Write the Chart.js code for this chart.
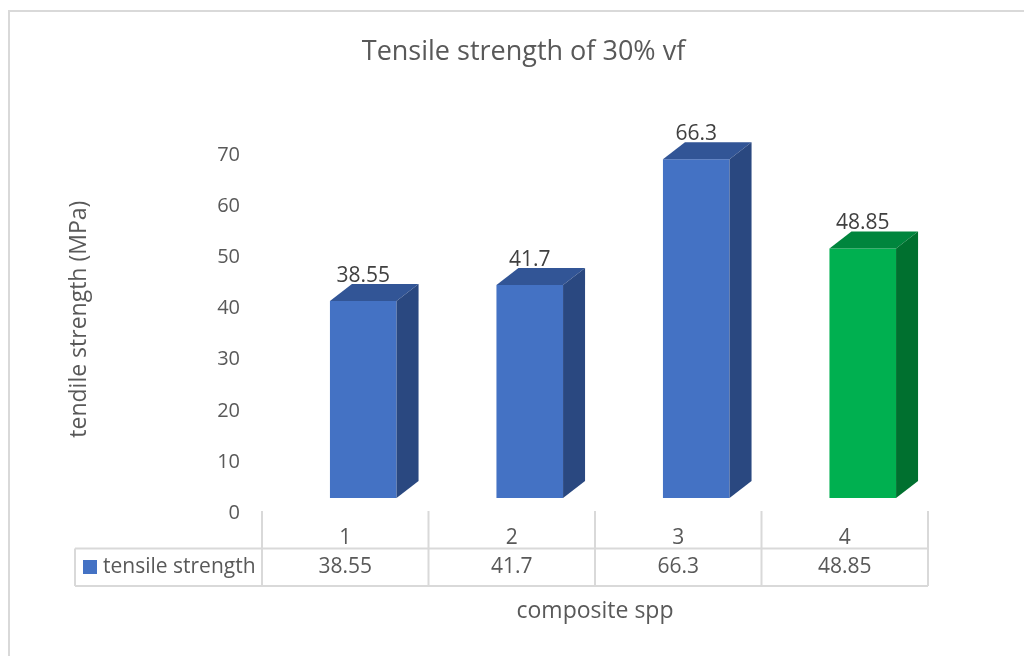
<!DOCTYPE html>
<html>
<head>
<meta charset="utf-8">
<title>Tensile strength of 30% vf</title>
<script src="https://cdn.jsdelivr.net/npm/chart.js@4.4.1/dist/chart.umd.min.js"></script>
<style>
  html, body { margin: 0; padding: 0; background: #fff; }
  canvas { display: block; }
</style>
</head>
<body>
<canvas id="strengthChart" width="1024" height="656"></canvas>
<script>
// chart values
const categories = ["1", "2", "3", "4"];
const seriesName = "tensile strength";
const tensileStrength = [38.55, 41.7, 66.3, 48.85];
const yTicks = [0, 10, 20, 30, 40, 50, 60, 70];

// face colours (front, top, side)
const frontColors = ["#4472C4", "#4472C4", "#4472C4", "#00B050"];
const topColors = ["#325596", "#325596", "#325596", "#00853D"];
const sideColors = ["#2A4880", "#2A4880", "#2A4880", "#00702F"];

const FONT = "'Open Sans', 'Noto Sans', sans-serif";
const TEXT = "#595959";
const GRID = "#d9d9d9";
const SHIFT = 18;   // perspective shift of the bars
const DX = 22;      // depth of the 3D faces
const DY = 17;

const frame = {
  id: "frame",
  beforeDraw(chart) {
    const { ctx, width, height } = chart;
    ctx.save();
    ctx.fillStyle = "#fff";
    ctx.fillRect(0, 0, width, height);
    ctx.strokeStyle = GRID;
    ctx.lineWidth = 2;
    ctx.beginPath();
    ctx.moveTo(9, height);
    ctx.lineTo(9, 11);
    ctx.lineTo(width, 11);
    ctx.stroke();
    ctx.restore();
  }
};

const bars3d = {
  id: "bars3d",
  beforeDatasetsDraw(chart) {
    chart.ctx.save();
    chart.ctx.translate(SHIFT, 0);
  },
  afterDatasetsDraw(chart) {
    const ctx = chart.ctx;
    chart.getDatasetMeta(0).data.forEach((bar, i) => {
      const { x, y, base, width } = bar.getProps(["x", "y", "base", "width"], true);
      const l = x - width / 2;
      const r = x + width / 2;

      ctx.fillStyle = topColors[i];
      ctx.beginPath();
      ctx.moveTo(l, y);
      ctx.lineTo(l + DX, y - DY);
      ctx.lineTo(r + DX, y - DY);
      ctx.lineTo(r, y);
      ctx.closePath();
      ctx.fill();

      ctx.fillStyle = sideColors[i];
      ctx.beginPath();
      ctx.moveTo(r, y);
      ctx.lineTo(r + DX, y - DY);
      ctx.lineTo(r + DX, base - DY);
      ctx.lineTo(r, base);
      ctx.closePath();
      ctx.fill();

      ctx.fillStyle = "#404040";
      ctx.font = "21px " + FONT;
      ctx.textAlign = "center";
      ctx.textBaseline = "middle";
      ctx.fillText(String(tensileStrength[i]), x, y - 25);
    });
    ctx.restore();
  }
};

const dataTable = {
  id: "dataTable",
  afterDraw(chart) {
    const { ctx, chartArea } = chart;
    const xs = chart.scales.x;
    const step = (chartArea.right - chartArea.left) / categories.length;
    const top = chartArea.bottom + 13;
    const mid = chartArea.bottom + 50.5;
    const bot = chartArea.bottom + 88;
    const legendLeft = 75;

    ctx.save();
    ctx.strokeStyle = GRID;
    ctx.lineWidth = 2;
    ctx.beginPath();
    for (let i = 0; i <= categories.length; i++) {
      const x = chartArea.left + i * step;
      ctx.moveTo(x, top);
      ctx.lineTo(x, bot);
    }
    ctx.moveTo(legendLeft, mid);
    ctx.lineTo(chartArea.right, mid);
    ctx.moveTo(legendLeft, bot);
    ctx.lineTo(chartArea.right, bot);
    ctx.moveTo(legendLeft, mid);
    ctx.lineTo(legendLeft, bot);
    ctx.stroke();

    const rowY = mid + 18.5;
    ctx.fillStyle = frontColors[0];
    ctx.fillRect(83, rowY - 7, 14, 14);

    ctx.fillStyle = TEXT;
    ctx.font = "21px " + FONT;
    ctx.textBaseline = "middle";
    ctx.textAlign = "left";
    ctx.fillText(seriesName, 103, rowY);
    ctx.textAlign = "center";
    tensileStrength.forEach((v, i) => {
      ctx.fillText(String(v), xs.getPixelForValue(i), rowY);
    });
    ctx.restore();
  }
};

new Chart(document.getElementById("strengthChart"), {
  type: "bar",
  data: {
    labels: categories,
    datasets: [{
      label: seriesName,
      data: tensileStrength,
      backgroundColor: frontColors,
      borderWidth: 0,
      barPercentage: 1,
      categoryPercentage: 0.4
    }]
  },
  options: {
    responsive: false,
    animation: false,
    events: [],
    layout: { padding: { left: 23, right: 0, top: 0, bottom: 0 } },
    scales: {
      x: {
        grid: { display: false, drawTicks: false },
        border: { display: false },
        ticks: { color: TEXT, font: { family: FONT, size: 21 }, padding: 27 },
        title: {
          display: true,
          text: "composite spp",
          color: TEXT,
          font: { family: FONT, size: 23 },
          padding: { top: 0, bottom: 31 }
        },
        afterFit(scale) { scale.height = 158; }
      },
      y: {
        min: 0,
        max: 70,
        grid: { display: false, drawTicks: false },
        border: { display: false },
        afterBuildTicks(scale) { scale.ticks = yTicks.map(v => ({ value: v })); },
        ticks: { color: TEXT, font: { family: FONT, size: 20 }, padding: 22, labelOffset: 15 },
        title: {
          display: true,
          text: "tendile strength (MPa)",
          color: TEXT,
          font: { family: FONT, size: 23 },
          padding: { top: 43, bottom: 0 }
        },
        afterFit(scale) { scale.width = 239; }
      },
      // empty right-hand margin so the title centres over the whole frame
      margin: {
        position: "right",
        grid: { display: false, drawTicks: false },
        border: { display: false },
        ticks: { display: false },
        afterFit(scale) { scale.width = 96; }
      }
    },
    plugins: {
      legend: { display: false },
      tooltip: { enabled: false },
      title: {
        display: true,
        text: "Tensile strength of 30% vf",
        color: TEXT,
        font: { family: FONT, size: 27, weight: "normal" },
        padding: { top: 36, bottom: 72 }
      }
    }
  },
  plugins: [frame, bars3d, dataTable]
});
</script>
</body>
</html>
